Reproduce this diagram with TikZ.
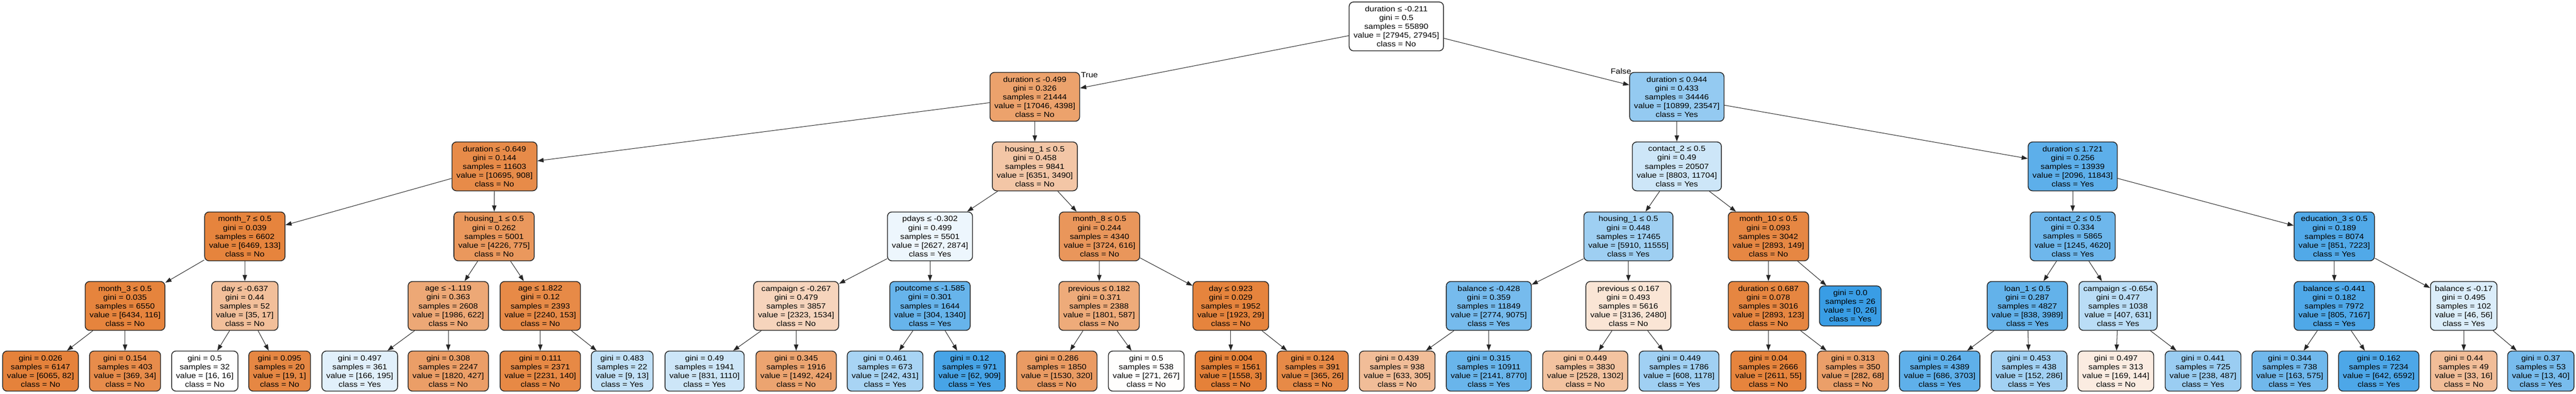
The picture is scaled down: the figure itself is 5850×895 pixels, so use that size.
\documentclass[tikz,border=0pt]{standalone}
\usepackage{fontspec}
\setmainfont{Liberation Sans}[FakeStretch=1.12]
\usetikzlibrary{arrows.meta}
\definecolor{clsNo}{HTML}{E58139}
\definecolor{clsYes}{HTML}{399DE5}

\begin{document}
\begin{tikzpicture}[x=1pt, y=-1pt,
		split/.style={draw=black!85, line width=1.8pt, rounded corners=10pt, align=center,
			inner xsep=10pt, minimum height=111pt, font=\fontsize{17}{20}\selectfont},
		leaf/.style={split, minimum height=91pt},
		lbl/.style={inner sep=0pt, font=\fontsize{17}{20}\selectfont},
		edge/.style={line width=1.2pt, black!85, -{Triangle[length=14pt,width=10pt]}}]
				\fill[white] (0,0) rectangle (5850,895);
				\node[split, fill=white] (t) at (3171,60) {duration ≤ -0.211\\gini = 0.5\\samples = 55890\\value = [27945, 27945]\\class = No};
				% split nodes, level by level
				\foreach \nm/\pa/\px/\py/\sp/\gi/\sa/\va/\cl/\al in {
					tl/t/2350/220/{duration ≤ -0.499}/0.326/21444/{[17046, 4398]}/No/74,
					tr/t/3808/220/{duration ≤ 0.944}/0.433/34446/{[10899, 23547]}/Yes/54,
					tll/tl/1123/378/{duration ≤ -0.649}/0.144/11603/{[10695, 908]}/No/92,
					tlr/tl/2350/378/{housing\_1 ≤ 0.5}/0.458/9841/{[6351, 3490]}/No/45,
					trl/tr/3808/378/{contact\_2 ≤ 0.5}/0.49/20507/{[8803, 11704]}/Yes/25,
					trr/tr/4707/378/{duration ≤ 1.721}/0.256/13939/{[2096, 11843]}/Yes/82,
					tlll/tll/556/537/{month\_7 ≤ 0.5}/0.039/6602/{[6469, 133]}/No/98,
					tllr/tll/1122/537/{housing\_1 ≤ 0.5}/0.262/5001/{[4226, 775]}/No/82,
					tlrl/tlr/2112/537/{pdays ≤ -0.302}/0.499/5501/{[2627, 2874]}/Yes/9,
					tlrr/tlr/2497/537/{month\_8 ≤ 0.5}/0.244/4340/{[3724, 616]}/No/83,
					trll/trl/3698/537/{housing\_1 ≤ 0.5}/0.448/17465/{[5910, 11555]}/Yes/49,
					trlr/trl/4016/537/{month\_10 ≤ 0.5}/0.093/3042/{[2893, 149]}/No/95,
					trrl/trr/4707/537/{contact\_2 ≤ 0.5}/0.334/5865/{[1245, 4620]}/Yes/73,
					trrr/trr/5301/537/{education\_3 ≤ 0.5}/0.189/8074/{[851, 7223]}/Yes/88,
					tllll/tlll/284/695/{month\_3 ≤ 0.5}/0.035/6550/{[6434, 116]}/No/98,
					tlllr/tlll/556/695/{day ≤ -0.637}/0.44/52/{[35, 17]}/No/51,
					tllrl/tllr/1018/695/{age ≤ -1.119}/0.363/2608/{[1986, 622]}/No/69,
					tllrr/tllr/1227/695/{age ≤ 1.822}/0.12/2393/{[2240, 153]}/No/93,
					tlrll/tlrl/1808/695/{campaign ≤ -0.267}/0.479/3857/{[2323, 1534]}/No/34,
					tlrlr/tlrl/2112/695/{poutcome ≤ -1.585}/0.301/1644/{[304, 1340]}/Yes/77,
					tlrrl/tlrr/2496/695/{previous ≤ 0.182}/0.371/2388/{[1801, 587]}/No/67,
					tlrrr/tlrr/2795/695/{day ≤ 0.923}/0.029/1952/{[1923, 29]}/No/98,
					trlll/trll/3381/695/{balance ≤ -0.428}/0.359/11849/{[2774, 9075]}/Yes/69,
					trllr/trll/3698/695/{previous ≤ 0.167}/0.493/5616/{[3136, 2480]}/No/21,
					trlrl/trlr/4016/695/{duration ≤ 0.687}/0.078/3016/{[2893, 123]}/No/96,
					trrll/trrl/4604/695/{loan\_1 ≤ 0.5}/0.287/4827/{[838, 3989]}/Yes/79,
					trrlr/trrl/4810/695/{campaign ≤ -0.654}/0.477/1038/{[407, 631]}/Yes/35,
					trrrl/trrr/5301/695/{balance ≤ -0.441}/0.182/7972/{[805, 7167]}/Yes/89,
					trrrr/trrr/5595/695/{balance ≤ -0.17}/0.495/102/{[46, 56]}/Yes/18} {
					\node[split, fill=cls\cl!\al!white] (\nm) at (\px,\py) {\sp\\gini = \gi\\samples = \sa\\value = \va\\class = \cl};
					\draw[edge] (\pa) -- (\nm);
				}
				% leaves
				\foreach \nm/\pa/\px/\py/\gi/\sa/\va/\cl/\al in {
					trlrr/trlr/4202/695/0.0/26/{[0, 26]}/Yes/100,
					tlllll/tllll/92/843/0.026/6147/{[6065, 82]}/No/99,
					tllllr/tllll/284/843/0.154/403/{[369, 34]}/No/91,
					tlllrl/tlllr/465/843/0.5/32/{[16, 16]}/No/0,
					tlllrr/tlllr/635/843/0.095/20/{[19, 1]}/No/95,
					tllrll/tllrl/817/843/0.497/361/{[166, 195]}/Yes/15,
					tllrlr/tllrl/1018/843/0.308/2247/{[1820, 427]}/No/77,
					tllrrl/tllrr/1227/843/0.111/2371/{[2231, 140]}/No/94,
					tllrrr/tllrr/1413/843/0.483/22/{[9, 13]}/Yes/31,
					tlrlll/tlrll/1600/843/0.49/1941/{[831, 1110]}/Yes/25,
					tlrllr/tlrll/1808/843/0.345/1916/{[1492, 424]}/No/72,
					tlrlrl/tlrlr/2010/843/0.461/673/{[242, 431]}/Yes/44,
					tlrlrr/tlrlr/2202/843/0.12/971/{[62, 909]}/Yes/93,
					tlrrll/tlrrl/2400/843/0.286/1850/{[1530, 320]}/No/79,
					tlrrlr/tlrrl/2603/843/0.5/538/{[271, 267]}/No/1,
					tlrrrl/tlrrr/2795/843/0.004/1561/{[1558, 3]}/No/100,
					tlrrrr/tlrrr/2981/843/0.124/391/{[365, 26]}/No/93,
					trllll/trlll/3173/843/0.439/938/{[633, 305]}/No/52,
					trlllr/trlll/3381/843/0.315/10911/{[2141, 8770]}/Yes/76,
					trllrl/trllr/3600/843/0.449/3830/{[2528, 1302]}/No/48,
					trllrr/trllr/3813/843/0.449/1786/{[608, 1178]}/Yes/48,
					trlrll/trlrl/4016/843/0.04/2666/{[2611, 55]}/No/98,
					trlrlr/trlrl/4208/843/0.313/350/{[282, 68]}/No/76,
					trrlll/trrll/4405/843/0.264/4389/{[686, 3703]}/Yes/81,
					trrllr/trrll/4608/843/0.453/438/{[152, 286]}/Yes/47,
					trrlrl/trrlr/4805/843/0.497/313/{[169, 144]}/No/15,
					trrlrr/trrlr/5003/843/0.441/725/{[238, 487]}/Yes/51,
					trrrll/trrrl/5200/843/0.344/738/{[163, 575]}/Yes/72,
					trrrlr/trrrl/5402/843/0.162/7234/{[642, 6592]}/Yes/90,
					trrrrl/trrrr/5595/843/0.44/49/{[33, 16]}/No/52,
					trrrrr/trrrr/5770/843/0.37/53/{[13, 40]}/Yes/68} {
					\node[leaf, fill=cls\cl!\al!white] (\nm) at (\px,\py) {gini = \gi\\samples = \sa\\value = \va\\class = \cl};
					\draw[edge] (\pa) -- (\nm);
				}
				\node[lbl] (truelbl) at (2474,170) {True};
				\node[lbl] (falselbl) at (3681,162) {False};
			\end{tikzpicture}
\end{document}
